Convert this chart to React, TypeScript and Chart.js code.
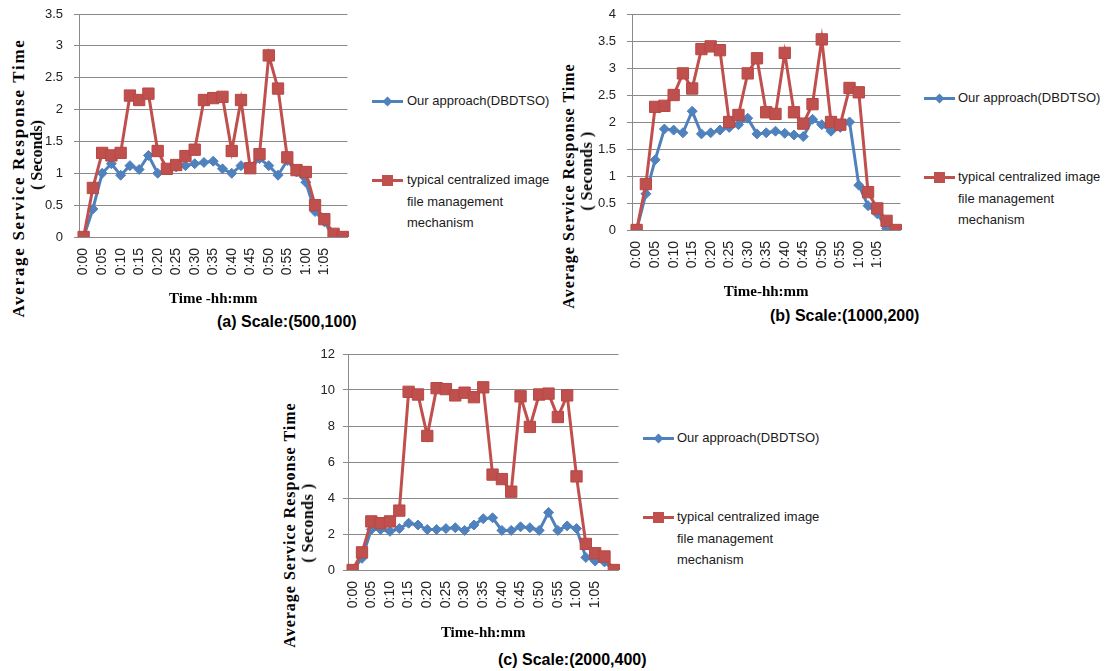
import React, { useEffect, useRef } from 'react';
import { Chart, registerables } from 'chart.js';

Chart.register(...registerables);

// ---------- data ----------
const timeLabels = [
  '0:00', '', '0:05', '', '0:10', '', '0:15', '', '0:20', '', '0:25', '', '0:30', '', '0:35', '',
  '0:40', '', '0:45', '', '0:50', '', '0:55', '', '1:00', '', '1:05', '', '',
];

const seriesNames = ['Our approach(DBDTSO)', 'typical centralized image file management mechanism'];
const legendLines = ['typical centralized image', 'file management', 'mechanism'];

const oursA = [0, 0.44, 1.0, 1.15, 0.97, 1.12, 1.06, 1.28, 1.0, 1.07, 1.1, 1.12, 1.15, 1.17, 1.19, 1.07, 1.0, 1.12, 1.08, 1.23, 1.12, 0.97, 1.2, 1.02, 0.86, 0.4, 0.24, 0, 0];
const typicalA = [0, 0.77, 1.32, 1.28, 1.32, 2.22, 2.15, 2.25, 1.35, 1.07, 1.13, 1.27, 1.37, 2.15, 2.18, 2.2, 1.35, 2.15, 1.08, 1.3, 2.85, 2.33, 1.25, 1.05, 1.02, 0.5, 0.28, 0.05, 0];

const oursB = [0, 0.67, 1.3, 1.87, 1.85, 1.8, 2.2, 1.78, 1.8, 1.85, 1.9, 1.95, 2.07, 1.78, 1.8, 1.83, 1.79, 1.76, 1.73, 2.05, 1.95, 1.83, 1.9, 2.0, 0.83, 0.45, 0.3, 0.03, 0];
const typicalB = [0, 0.85, 2.28, 2.3, 2.5, 2.9, 2.62, 3.35, 3.4, 3.33, 2.0, 2.13, 2.9, 3.18, 2.18, 2.15, 3.28, 2.18, 1.97, 2.33, 3.53, 2.0, 1.95, 2.63, 2.55, 0.7, 0.4, 0.17, 0];

const oursC = [0, 0.65, 2.25, 2.25, 2.15, 2.3, 2.6, 2.5, 2.25, 2.25, 2.3, 2.35, 2.2, 2.5, 2.85, 2.9, 2.2, 2.2, 2.4, 2.35, 2.2, 3.2, 2.2, 2.45, 2.3, 0.7, 0.5, 0.45, 0];
const typicalC = [0, 0.98, 2.7, 2.6, 2.7, 3.3, 9.9, 9.75, 7.45, 10.1, 10.05, 9.7, 9.85, 9.6, 10.15, 5.3, 5.05, 4.35, 9.65, 7.95, 9.75, 9.8, 8.5, 9.7, 5.2, 1.45, 0.93, 0.75, 0];

const yTitleLine1 = 'Average Service Response Time';
const captions = ['(a) Scale:(500,100)', '(b) Scale:(1000,200)', '(c) Scale:(2000,400)'];
const xTitles = ['Time -hh:mm', 'Time-hh:mm', 'Time-hh:mm'];
const yTitleLine2 = ['( Seconds)', '( Seconds )', '( Seconds )'];
const yMaxes = [3.5, 4, 12];
const ySteps = [0.5, 0.5, 2];

// ---------- styles / layout ----------
const BLUE = '#4F81BD';
const RED = '#C0504D';
const GRID = '#8a8a8a';
const SANS = "'Liberation Sans', Arial, sans-serif";
const SERIF = "'Liberation Serif', 'Times New Roman', serif";
const Y_AXIS_W = 45;
const PAD_TOP = 22;
const PAD_RIGHT = 22;

type Panel = {
  ours: number[];
  typical: number[];
  yMax: number;
  yStep: number;
  xTitle: string;
  caption: string;
  yLine2: string;
  plotLeft: number;
  plotRight: number;
  plotTop: number;
  plotBottom: number;
  xAxisH: number;
  yTickPad: number;
  y1: { cx: number; cy: number; size: number; ls: number };
  y2: { cx: number; cy: number; size: number; ls: number };
  cap: { left: number; cy: number };
  leg: { lineX: number; yBlue: number; yRed: number; textX: number };
};

const panels: Panel[] = [
  {
    ours: oursA, typical: typicalA, yMax: yMaxes[0], yStep: ySteps[0], xTitle: xTitles[0], caption: captions[0], yLine2: yTitleLine2[0],
    plotLeft: 79, plotRight: 349, plotTop: 14, plotBottom: 237, xAxisH: 71, yTickPad: 11,
    y1: { cx: 17.5, cy: 178, size: 17, ls: 1.7 }, y2: { cx: 37, cy: 155, size: 16, ls: 0 },
    cap: { left: 217, cy: 322 },
    leg: { lineX: 372, yBlue: 101, yRed: 180, textX: 407 },
  },
  {
    ours: oursB, typical: typicalB, yMax: yMaxes[1], yStep: ySteps[1], xTitle: xTitles[1], caption: captions[1], yLine2: yTitleLine2[1],
    plotLeft: 632, plotRight: 902, plotTop: 14, plotBottom: 230, xAxisH: 71, yTickPad: 11,
    y1: { cx: 569, cy: 186, size: 16, ls: 1 }, y2: { cx: 587, cy: 171, size: 16, ls: 0.5 },
    cap: { left: 770, cy: 316 },
    leg: { lineX: 924, yBlue: 98, yRed: 177, textX: 958 },
  },
  {
    ours: oursC, typical: typicalC, yMax: yMaxes[2], yStep: ySteps[2], xTitle: xTitles[2], caption: captions[2], yLine2: yTitleLine2[2],
    plotLeft: 348, plotRight: 620, plotTop: 354, plotBottom: 570, xAxisH: 72, yTickPad: 8,
    y1: { cx: 290, cy: 525, size: 16, ls: 1 }, y2: { cx: 308, cy: 523, size: 16, ls: 0.5 },
    cap: { left: 498, cy: 660 },
    leg: { lineX: 643, yBlue: 438, yRed: 517, textX: 677 },
  },
];

function LineChart({ p }: { p: Panel }) {
  const ref = useRef<HTMLCanvasElement | null>(null);
  const width = Y_AXIS_W + (p.plotRight - p.plotLeft) + PAD_RIGHT;
  const height = PAD_TOP + (p.plotBottom - p.plotTop) + p.xAxisH;
  useEffect(() => {
    if (!ref.current) return;
    const chart = new Chart(ref.current, {
      type: 'line',
      data: {
        labels: timeLabels,
        datasets: [
          {
            label: seriesNames[0],
            data: p.ours,
            borderColor: BLUE,
            backgroundColor: BLUE,
            borderWidth: 3,
            pointStyle: 'rectRot',
            pointRadius: 5,
            pointBorderWidth: 1,
            pointBorderColor: BLUE,
            pointBackgroundColor: BLUE,
            tension: 0,
            order: 2,
          },
          {
            label: seriesNames[1],
            data: p.typical,
            borderColor: RED,
            backgroundColor: RED,
            borderWidth: 3,
            pointStyle: 'rect',
            pointRadius: 8,
            pointBorderWidth: 1,
            pointBorderColor: '#B64845',
            pointBackgroundColor: RED,
            tension: 0,
            order: 1,
          },
        ],
      },
      options: {
        animation: false,
        responsive: false,
        maintainAspectRatio: false,
        layout: { padding: { top: PAD_TOP, right: PAD_RIGHT, bottom: 0, left: 0 } },
        plugins: { legend: { display: false }, tooltip: { enabled: false } },
        scales: {
          x: {
            type: 'category',
            offset: true,
            grid: { display: false, drawTicks: false },
            border: { display: true, color: GRID, width: 1 },
            ticks: {
              autoSkip: false,
              maxRotation: 90,
              minRotation: 90,
              padding: 11,
              color: '#222',
              font: { family: SANS, size: 14 },
            },
            title: {
              display: true,
              text: p.xTitle,
              color: '#000',
              padding: 0,
              font: { family: SERIF, size: 15, weight: 'bold' },
            },
            afterFit: (s: any) => {
              s.height = p.xAxisH;
            },
          },
          y: {
            min: 0,
            max: p.yMax,
            ticks: {
              stepSize: p.yStep,
              padding: p.yTickPad,
              color: '#222',
              font: { family: SANS, size: 13 },
              callback: (v: any) => String(Number(v)),
            },
            grid: { color: GRID, lineWidth: 1, tickLength: 5, drawTicks: true },
            border: { display: true, color: GRID, width: 1 },
            afterFit: (s: any) => {
              s.width = Y_AXIS_W;
            },
          },
        },
      } as any,
    });
    return () => chart.destroy();
  }, [p]);
  return (
    <canvas
      ref={ref}
      width={width}
      height={height}
      style={{
        position: 'absolute',
        left: p.plotLeft - Y_AXIS_W,
        top: p.plotTop - PAD_TOP,
        width,
        height,
        display: 'block',
      }}
    />
  );
}

function VText({ text, cx, cy, size, ls }: { text: string; cx: number; cy: number; size: number; ls: number }) {
  return (
    <div
      style={{
        position: 'absolute',
        left: cx,
        top: cy,
        transform: 'translate(-50%, -50%) rotate(-90deg)',
        whiteSpace: 'nowrap',
        fontFamily: SERIF,
        fontWeight: 'bold',
        fontSize: size,
        letterSpacing: ls,
        lineHeight: 1,
        color: '#000',
      }}
    >
      {text}
    </div>
  );
}

function Legend({ p }: { p: Panel }) {
  const { lineX, yBlue, yRed, textX } = p.leg;
  const lineStyle = (color: string, y: number): React.CSSProperties => ({
    position: 'absolute',
    left: lineX,
    top: y - 1.5,
    width: 31,
    height: 3,
    background: color,
  });
  const textStyle: React.CSSProperties = {
    position: 'absolute',
    left: textX,
    fontFamily: SANS,
    fontSize: 13,
    color: '#1a1a1a',
    whiteSpace: 'nowrap',
    lineHeight: '21.5px',
  };
  return (
    <>
      <div style={lineStyle(BLUE, yBlue)} />
      <div
        style={{
          position: 'absolute',
          left: lineX + 15.5 - 3.5,
          top: yBlue - 3.5,
          width: 7,
          height: 7,
          background: BLUE,
          transform: 'rotate(45deg)',
        }}
      />
      <div style={{ ...textStyle, top: yBlue - 10.75 }}>{seriesNames[0]}</div>
      <div style={lineStyle(RED, yRed)} />
      <div
        style={{
          position: 'absolute',
          left: lineX + 15.5 - 5.5,
          top: yRed - 5.5,
          width: 11,
          height: 11,
          background: RED,
        }}
      />
      <div style={{ ...textStyle, top: yRed - 10.75 }}>
        {legendLines.map((l, i) => (
          <div key={i}>{l}</div>
        ))}
      </div>
    </>
  );
}

export default function App() {
  return (
    <div
      style={{
        position: 'absolute',
        left: 0,
        top: 0,
        width: 1112,
        height: 671,
        background: '#fff',
        overflow: 'hidden',
      }}
    >
      {panels.map((p, i) => (
        <React.Fragment key={i}>
          <LineChart p={p} />
          <VText text={yTitleLine1} {...p.y1} />
          <VText text={p.yLine2} {...p.y2} />
          <Legend p={p} />
          <div
            style={{
              position: 'absolute',
              left: p.cap.left,
              top: p.cap.cy - 10,
              fontFamily: SANS,
              fontWeight: 'bold',
              fontSize: 16,
              lineHeight: '20px',
              color: '#000',
              whiteSpace: 'nowrap',
            }}
          >
            {p.caption}
          </div>
        </React.Fragment>
      ))}
    </div>
  );
}
